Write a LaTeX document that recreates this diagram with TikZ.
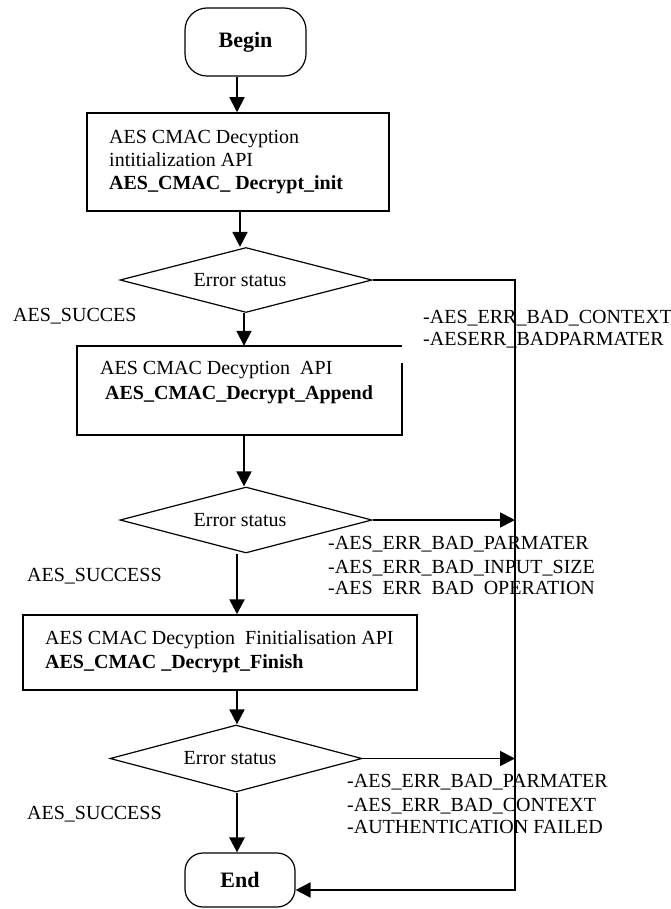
\documentclass[tikz,border=0pt]{standalone}
\usepackage{fontspec}
\setmainfont{Liberation Serif}
\usetikzlibrary{shapes.geometric,arrows.meta}
\begin{document}
\begin{tikzpicture}[x=1pt,y=-1pt,
  term/.style={draw, line width=1.2pt, rounded corners=#1, inner sep=0pt,
    font=\fontsize{22}{24}\selectfont\bfseries},
  procbox/.style={draw, line width=1.5pt, inner sep=0pt},
  decision/.style={diamond, draw, line width=1.2pt, inner sep=0pt, aspect=3.9,
    minimum width=252pt},
  txt/.style={anchor=base west, inner sep=0pt, font=\fontsize{20}{23}\selectfont},
  mid/.style={anchor=center, inner sep=0pt, font=\fontsize{20}{23}\selectfont},
  tip/.style={-{Triangle[length=15pt,width=15pt]}},
  arr/.style={line width=1.8pt, tip},
  thickarr/.style={arr, line width=2.6pt},
  rail/.style={line width=2pt}
]
\useasboundingbox (0,0) rectangle (671,909);

% terminals
\node[term=22pt, minimum width=121pt, minimum height=68pt] (begin) at (245.5,42) {Begin};
\node[term=18pt, minimum width=110pt, minimum height=54pt] (end) at (240,880) {End};

% process boxes
\node[procbox, minimum width=302pt, minimum height=98pt] (box1) at (238,162) {};
\node[txt] (b1a) at (109,143.5) {AES CMAC Decyption};
\node[txt] (b1b) at (109,166.5) {intitialization API};
\node[txt, font=\fontsize{20}{23}\selectfont\bfseries] (b1c) at (109,189.5) {AES\_CMAC\_ Decrypt\_init};

% second box: its right edge stops short of the top corner
\node[inner sep=0pt, minimum width=325pt, minimum height=89pt] (box2) at (239.5,390.5) {};
\draw[line width=1.5pt] ([yshift=-17pt]box2.north east) -- (box2.south east)
  -- (box2.south west) -- (box2.north west) -- (box2.north east);
\node[txt] (b2a) at (100,374.5) {AES CMAC Decyption~~API};
\node[txt, font=\fontsize{20}{23}\selectfont\bfseries] (b2b) at (105,399.5) {AES\_CMAC\_Decrypt\_Append};

\node[procbox, minimum width=394pt, minimum height=75pt] (box3) at (220,652.5) {};
\node[txt] (b3a) at (45,644.5) {AES CMAC Decyption~~Finitialisation API};
\node[txt, font=\fontsize{20}{23}\selectfont\bfseries] (b3b) at (45,668.5) {AES\_CMAC \_Decrypt\_Finish};

% decisions
\node[decision, minimum height=65pt] (dec1) at (246,280) {};
\node[mid] (d1t) at (240,280) {Error status};
\node[decision, minimum height=66pt] (dec2) at (246,520) {};
\node[mid] (d2t) at (240,520) {Error status};
\node[decision, minimum height=67pt] (dec3) at (236,758.5) {};
\node[mid] (d3t) at (230,758.5) {Error status};

% success labels
\node[txt] (s1) at (13,321.5) {AES\_SUCCES};
\node[txt] (s2) at (27,581.5) {AES\_SUCCESS};
\node[txt] (s3) at (27,819.5) {AES\_SUCCESS};

% error labels
\node[txt] (e1a) at (423,323.5) {-AES\_ERR\_BAD\_CONTEXT};
\node[txt] (e1b) at (423,345.5) {-AESERR\_BADPARMATER};
\node[txt] (e2a) at (328,549.5) {-AES\_ERR\_BAD\_PARMATER};
\node[txt] (e2b) at (328,573.5) {-AES\_ERR\_BAD\_INPUT\_SIZE};
\node[txt] (e2c) at (328,594.5) {-AES\phantom{\_}ERR\phantom{\_}BAD\phantom{\_}OPERATION};
\node[txt] (e3a) at (347,787.5) {-AES\_ERR\_BAD\_PARMATER};
\node[txt] (e3b) at (347,811.5) {-AES\_ERR\_BAD\_CONTEXT};
\node[txt] (e3c) at (347,833.5) {-AUTHENTICATION FAILED};

% guide coordinates for the vertical connectors
\coordinate (xa) at (237,0);
\coordinate (xb) at (240,0);
\coordinate (xc) at (244,0);
\coordinate (rx) at (515,0);
\coordinate (ry) at (0,890);

% main flow
\draw[arr] (begin.south -| xa) -- (box1.north -| xa);
\draw[arr] (box1.south -| xb) -- (dec1.north -| xb);
\draw[arr] (dec1.south -| xc) -- (box2.north -| xc);
\draw[arr] (box2.south -| xc) -- (dec2.north -| xc);
\draw[thickarr] (dec2.south -| xa) -- (box3.north -| xa);
\draw[arr] (box3.south -| xa) -- (dec3.north -| xa);
\draw[thickarr] (dec3.south -| xa) -- (end.north -| xa);

% error path
\draw[rail, tip] (dec1.east) -- (dec1.east -| rx)
  -- (rx |- ry) -- (end.east |- ry);
\draw[arr] (dec2.east) -- (dec2.east -| rx);
\draw[arr] (dec3.east) -- (dec3.east -| rx);
\end{tikzpicture}
\end{document}
